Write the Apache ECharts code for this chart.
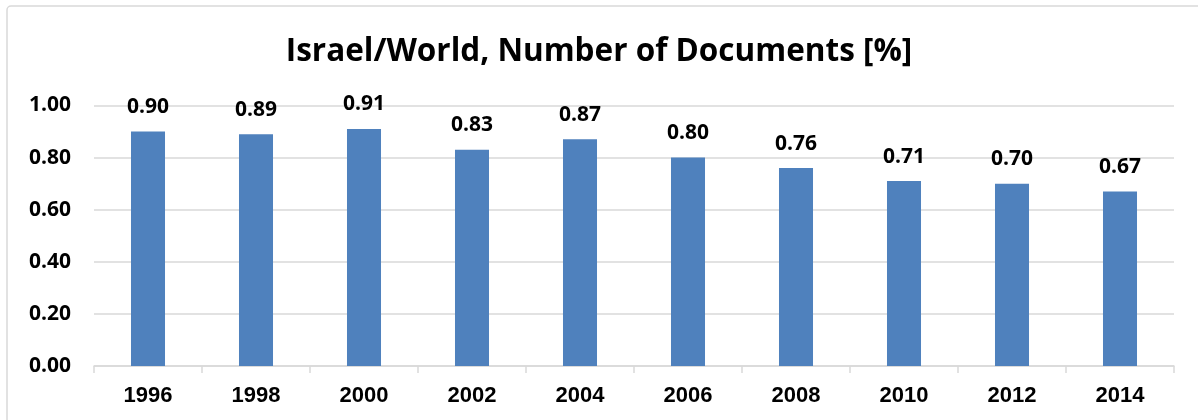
<!DOCTYPE html>
<html>
<head>
<meta charset="utf-8">
<script src="https://cdn.jsdelivr.net/npm/echarts@6/dist/echarts.min.js"></script>
<style>
  html, body { margin: 0; padding: 0; background: #fff; }
  #chart { width: 1198px; height: 420px; }
</style>
</head>
<body>
<div id="chart"></div>
<script>
// Israel's share of world documents, by year
const years = ['1996', '1998', '2000', '2002', '2004', '2006', '2008', '2010', '2012', '2014'];
const shares = [0.90, 0.89, 0.91, 0.83, 0.87, 0.80, 0.76, 0.71, 0.70, 0.67];
const titleText = 'Israel/World, Number of Documents [%]';

const chart = echarts.init(document.getElementById('chart'));
chart.setOption({
  animation: false,
  backgroundColor: '#ffffff',
  graphic: [{
    type: 'rect',
    shape: { x: 7, y: 6, width: 1240, height: 460, r: 4 },
    style: { fill: 'none', stroke: '#d9d9d9', lineWidth: 1.5 },
    z: -1
  }],
  title: {
    text: titleText,
    left: 'center',
    top: 31,
    textStyle: {
      fontFamily: 'Open Sans',
      fontWeight: 'bold',
      fontSize: 31.5,
      color: '#000'
    }
  },
  grid: { left: 94, right: 24, top: 105.5, bottom: 54, containLabel: false },
  xAxis: {
    type: 'category',
    data: years,
    axisLine: { lineStyle: { color: '#d9d9d9', width: 1.5 } },
    axisTick: { show: true, length: 7, lineStyle: { color: '#d9d9d9', width: 1.5 } },
    axisLabel: {
      margin: 19,
      fontFamily: 'Liberation Sans',
      fontWeight: 'bold',
      fontSize: 22,
      color: '#000'
    }
  },
  yAxis: {
    type: 'value',
    min: 0,
    max: 1,
    interval: 0.2,
    axisLine: { show: false },
    axisTick: { show: false },
    splitLine: { lineStyle: { color: '#d9d9d9', width: 1.5 } },
    axisLabel: {
      margin: 23,
      formatter: v => v.toFixed(2),
      fontFamily: 'Open Sans',
      fontWeight: 'bold',
      fontSize: 21,
      color: '#000'
    }
  },
  series: [{
    type: 'bar',
    data: shares,
    barWidth: '31.5%',
    itemStyle: { color: '#4F81BD' },
    label: {
      show: true,
      position: 'top',
      distance: 14,
      formatter: p => p.value.toFixed(2),
      fontFamily: 'Open Sans',
      fontWeight: 'bold',
      fontSize: 21,
      color: '#000'
    }
  }]
});
</script>
</body>
</html>
